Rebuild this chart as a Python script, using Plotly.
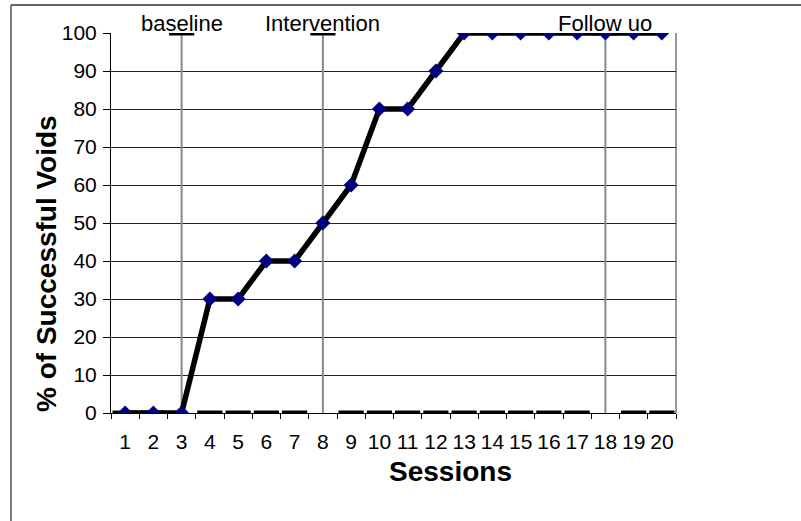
import plotly.graph_objects as go

sessions = [str(i) for i in range(1, 21)]
voids = [0, 0, 0, 30, 30, 40, 40, 50, 60, 80, 80, 90, 100, 100, 100, 100, 100, 100, 100, 100]
phase = [0, 0, 100, 0, 0, 0, 0, 100, 0, 0, 0, 0, 0, 0, 0, 0, 0, 100, 0, 0]
phase_labels = ["baseline", "Intervention", "Follow uo"]
y_ticks = [0, 10, 20, 30, 40, 50, 60, 70, 80, 90, 100]
x_title = "Sessions"
y_title = "% of Successful Voids"

W, H = 801, 521
L, R, T, B = 111, 125, 33, 108
pw, ph = W - L - R, H - T - B

fig = go.Figure()

# phase change lines
lx, ly = [], []
for s, p in zip(sessions, phase):
    if p > 0:
        lx += [s, s, None]
        ly += [0, p, None]
fig.add_trace(go.Scatter(x=lx, y=ly, mode="lines", line=dict(color="#8a8a8a", width=2),
                         hoverinfo="skip", showlegend=False))

# phase dashes
fig.add_trace(go.Scatter(x=sessions, y=phase, mode="markers",
                         marker=dict(symbol="line-ew", size=18, line=dict(color="black", width=5)),
                         showlegend=False))

# main series
fig.add_trace(go.Scatter(x=sessions, y=voids, mode="lines+markers",
                         line=dict(color="black", width=5.5),
                         marker=dict(symbol="diamond", size=11.5, color="#000080"),
                         showlegend=False))

idx = [i for i, p in enumerate(phase) if p > 0]
for i, t in zip(idx, phase_labels):
    fig.add_annotation(x=i, y=phase[i], text=t, showarrow=False, yanchor="middle", yshift=10,
                       font=dict(family="Liberation Sans, Arial", size=22, color="black"))

# axis titles (offset as in the original)
fig.add_annotation(xref="paper", yref="paper", x=(450 - L) / pw, y=-(471 - (T + ph)) / ph,
                   text="<b>" + x_title + "</b>", showarrow=False,
                   xanchor="center", yanchor="middle",
                   font=dict(family="Liberation Sans, Arial", size=28, color="black"))
fig.add_annotation(xref="paper", yref="paper", x=(46 - L) / pw, y=(T + ph - 264) / ph,
                   text="<b>" + y_title + "</b>", showarrow=False, textangle=-90,
                   xanchor="center", yanchor="middle",
                   font=dict(family="Liberation Sans, Arial", size=28, color="black"))

# outer frame lines (paper coords)
fx = (11 - L) / pw
fy = 1 + (T - 5) / ph
fig.add_shape(type="line", xref="paper", yref="paper", x0=fx, x1=(W - L) / pw, y0=fy, y1=fy,
              line=dict(color="#333333", width=1.5))
fig.add_shape(type="line", xref="paper", yref="paper", x0=fx, x1=fx, y0=fy, y1=-B / ph,
              line=dict(color="#555555", width=1.5))
# right border of plot area
fig.add_shape(type="line", xref="paper", yref="paper", x0=1, x1=1, y0=0, y1=1,
              line=dict(color="#333333", width=1))

fig.update_layout(
    width=W, height=H,
    margin=dict(l=L, r=R, t=T, b=B, autoexpand=False),
    plot_bgcolor="white", paper_bgcolor="white",
    font=dict(family="Liberation Sans, Arial", color="black"),
    xaxis=dict(type="category", categoryorder="array", categoryarray=sessions,
               range=[-0.5, 19.5], tickson="boundaries", ticks="outside", ticklen=5,
               tickcolor="black", showline=True, linecolor="black", linewidth=1,
               showgrid=False, tickfont=dict(size=21), tickangle=0, automargin=False,
               ticklabelstandoff=10),
    yaxis=dict(range=[0, 100], tickvals=y_ticks, ticks="outside", ticklen=7, tickcolor="black",
               showline=True, linecolor="black", linewidth=1, showgrid=True,
               gridcolor="#222222", gridwidth=1, zeroline=False, tickfont=dict(size=21),
               automargin=False, ticklabelstandoff=2),
)

fig.write_html("out.html", config={"displayModeBar": False},
               post_script="document.body.style.margin='0';document.body.style.overflow='hidden';")
